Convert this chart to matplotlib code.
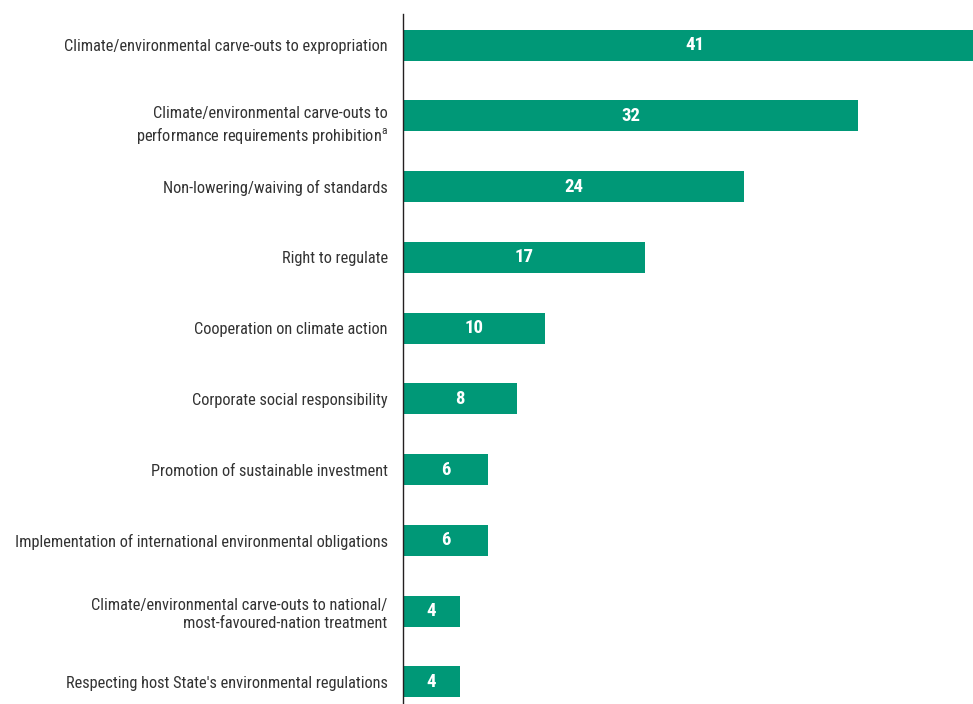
import matplotlib
matplotlib.use("Agg")
import matplotlib.pyplot as plt
from matplotlib.transforms import ScaledTranslation

# 항목/값 (위에서 아래 순서)
categories = [
    "Climate/environmental carve-outs to expropriation",
    "Climate/environmental carve-outs to\nperformance requirements prohibition$^{\\mathregular{a}}$",
    "Non-lowering/waiving of standards",
    "Right to regulate",
    "Cooperation on climate action",
    "Corporate social responsibility",
    "Promotion of sustainable investment",
    "Implementation of international environmental obligations",
    "Climate/environmental carve-outs to national/\nmost-favoured-nation treatment",
    "Respecting host State's environmental regulations",
]
values = [41, 32, 24, 17, 10, 8, 6, 6, 4, 4]

GREEN = "#009877"

# 좁은(condensed) 글꼴 우선, 없으면 Roboto 로
plt.rcParams["font.family"] = ["Roboto Condensed", "Liberation Sans Narrow",
                               "Roboto", "DejaVu Sans"]

fig = plt.figure(figsize=(9.73, 7.04), dpi=100)
ax = fig.add_axes([0.4142, 0.0, 0.5858, 0.980])

ypos = list(range(len(values)))
ax.barh(ypos, values, height=0.438, color=GREEN)

for y, v in zip(ypos, values):
    ax.text(v / 2, y, str(v), ha="center", va="center", color="white",
            fontsize=13.5, fontweight="bold")

ax.set_yticks(ypos)
ax.set_yticklabels(categories, fontsize=11.8, color="#333333",
                   linespacing=1.25)
ax.tick_params(axis="y", length=0, pad=11)
ax.set_xticks([])
ax.set_xlim(0, 40.08)
ax.set_ylim(9.311, -0.438)

# 두 번째 라벨은 원본에서 살짝 아래에 놓여 있음
lab = ax.get_yticklabels()[1]
lab.set_transform(lab.get_transform() + ScaledTranslation(0, -0.06, fig.dpi_scale_trans))

for side in ["top", "right", "bottom"]:
    ax.spines[side].set_visible(False)
ax.spines["left"].set_color("#231f20")
ax.spines["left"].set_linewidth(1.0)

fig.savefig("out.png", dpi=100)
